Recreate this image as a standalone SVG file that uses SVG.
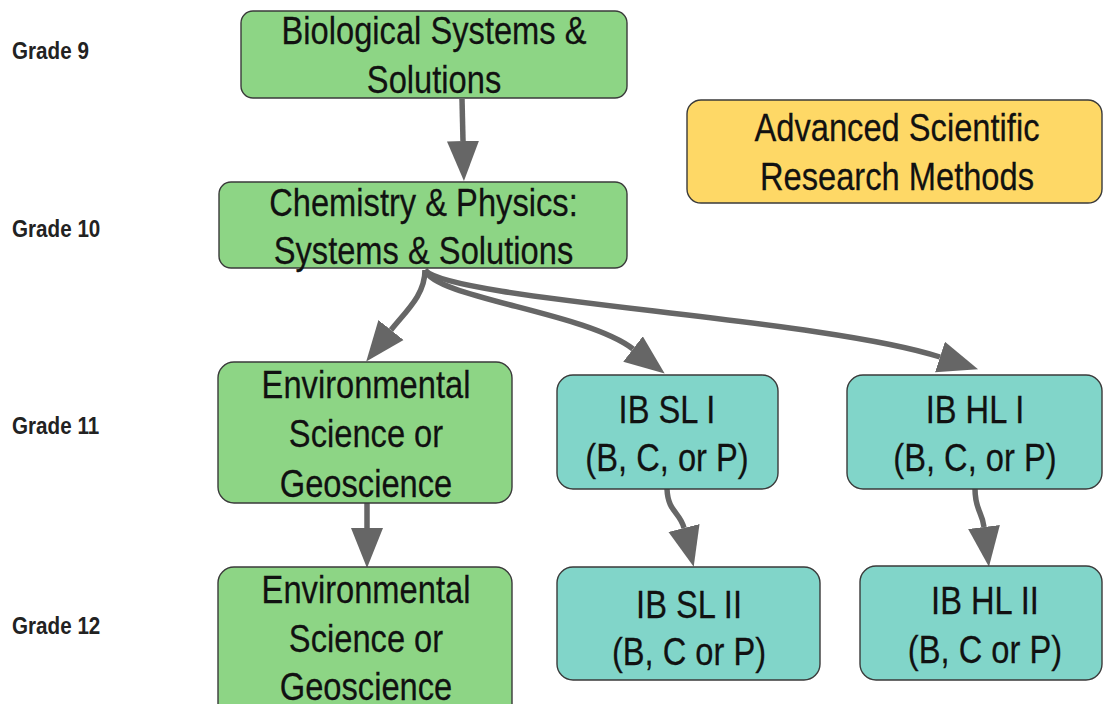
<svg xmlns="http://www.w3.org/2000/svg" width="1104" height="704" viewBox="0 0 1104 704">
<style>
.box{stroke:#3a3a3a;stroke-width:1.4}
.green{fill:#8dd585}
.teal{fill:#81d5c9}
.yellow{fill:#fed866}
.t{font-family:"Liberation Sans",Arial,sans-serif;font-size:38px;fill:#111;stroke:#111;stroke-width:0.25;text-anchor:middle}
.g{font-family:"Liberation Sans",Arial,sans-serif;font-size:24px;font-weight:bold;fill:#222}
.c{fill:none;stroke:#666;stroke-width:5.5}
</style>
<defs>
<marker id="ah" markerUnits="userSpaceOnUse" markerWidth="42" markerHeight="34" refX="0" refY="16" orient="auto" viewBox="0 0 42 32">
<path d="M0,0 L40,16 L0,32 Z" fill="#666"/>
</marker>
</defs>
<rect width="1104" height="704" fill="#fff"/>
<g id="labels">
<text class="g" transform="scale(0.86 1)" x="14" y="59">Grade 9</text>
<text class="g" transform="scale(0.86 1)" x="14" y="237">Grade 10</text>
<text class="g" transform="scale(0.86 1)" x="14" y="434">Grade 11</text>
<text class="g" transform="scale(0.86 1)" x="14" y="634">Grade 12</text>
</g>
<g id="connectors">
<path class="c" d="M462,99 L463,141" marker-end="url(#ah)"/>
<path class="c" d="M425,270 C425,295 406,311 391,330" marker-end="url(#ah)"/>
<path class="c" d="M425,270 C435,298 585,312 633,349" marker-end="url(#ah)"/>
<path class="c" d="M425,270 C450,300 820,318 940,357" marker-end="url(#ah)"/>
<path class="c" d="M367,503 L367,528" marker-end="url(#ah)"/>
<path class="c" d="M667,489 C668,512 680,512 684,528" marker-end="url(#ah)"/>
<path class="c" d="M975,489 C975,510 982,511 984,527" marker-end="url(#ah)"/>
</g>
<g id="bio">
<rect class="box green" x="241" y="11" width="386" height="87" rx="12"/>
<text class="t" transform="scale(0.86 1)" x="504.7" y="44">Biological Systems &amp;</text>
<text class="t" transform="scale(0.86 1)" x="504.7" y="93">Solutions</text>
</g>
<g id="chem">
<rect class="box green" x="219" y="182" width="408" height="86" rx="12"/>
<text class="t" transform="scale(0.86 1)" x="492.4" y="216">Chemistry &amp; Physics:</text>
<text class="t" transform="scale(0.86 1)" x="492.4" y="264">Systems &amp; Solutions</text>
</g>
<g id="advanced">
<rect class="box yellow" x="687" y="100" width="415" height="103" rx="14"/>
<text class="t" transform="scale(0.86 1)" x="1043" y="141">Advanced Scientific</text>
<text class="t" transform="scale(0.86 1)" x="1043" y="190">Research Methods</text>
</g>
<g id="env11">
<rect class="box green" x="218" y="362" width="294" height="141" rx="16"/>
<text class="t" transform="scale(0.86 1)" x="425.6" y="398">Environmental</text>
<text class="t" transform="scale(0.86 1)" x="425.6" y="447">Science or</text>
<text class="t" transform="scale(0.86 1)" x="425.6" y="497">Geoscience</text>
</g>
<g id="env12">
<rect class="box green" x="218" y="567" width="294" height="160" rx="16"/>
<text class="t" transform="scale(0.86 1)" x="425.6" y="603">Environmental</text>
<text class="t" transform="scale(0.86 1)" x="425.6" y="652">Science or</text>
<text class="t" transform="scale(0.86 1)" x="425.6" y="700">Geoscience</text>
</g>
<g id="ibsl1">
<rect class="box teal" x="557" y="375" width="221" height="114" rx="16"/>
<text class="t" transform="scale(0.86 1)" x="775.6" y="423">IB SL I</text>
<text class="t" transform="scale(0.86 1)" x="775.6" y="471">(B, C, or P)</text>
</g>
<g id="ibhl1">
<rect class="box teal" x="847" y="375" width="255" height="114" rx="16"/>
<text class="t" transform="scale(0.86 1)" x="1133.7" y="423">IB HL I</text>
<text class="t" transform="scale(0.86 1)" x="1133.7" y="471">(B, C, or P)</text>
</g>
<g id="ibsl2">
<rect class="box teal" x="557" y="567" width="263" height="113" rx="16"/>
<text class="t" transform="scale(0.86 1)" x="801.2" y="618">IB SL II</text>
<text class="t" transform="scale(0.86 1)" x="801.2" y="665">(B, C or P)</text>
</g>
<g id="ibhl2">
<rect class="box teal" x="860" y="566" width="242" height="114" rx="16"/>
<text class="t" transform="scale(0.86 1)" x="1145.3" y="614">IB HL II</text>
<text class="t" transform="scale(0.86 1)" x="1145.3" y="663">(B, C or P)</text>
</g>
</svg>
